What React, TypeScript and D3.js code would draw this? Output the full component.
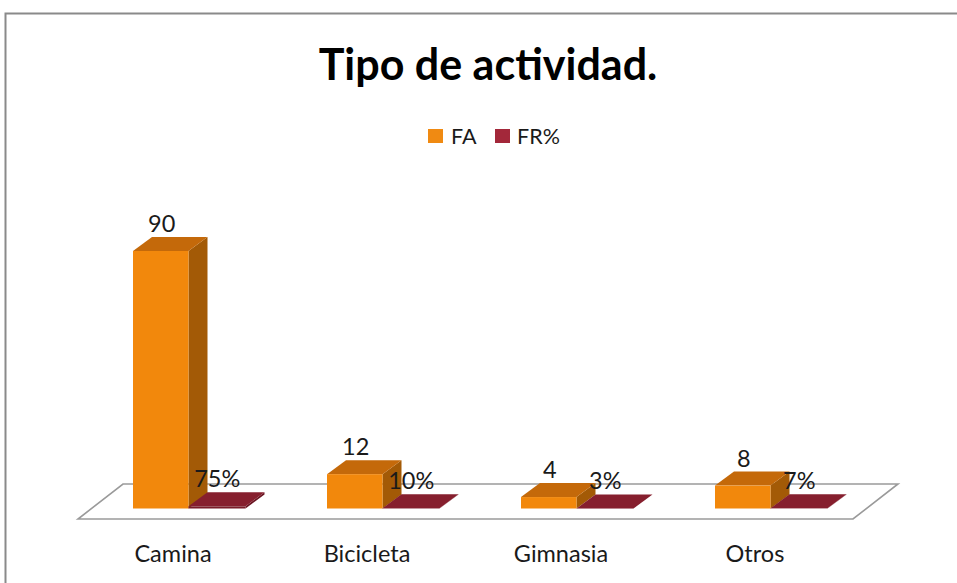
import React from "react";
import * as d3 from "d3";

const categories = ["Camina", "Bicicleta", "Gimnasia", "Otros"];
const faValues = [90, 12, 4, 8];
const frValues = [0.75, 0.1, 0.03, 0.07];
const frLabels = ["75%", "10%", "3%", "7%"];
const seriesNames = ["FA", "FR%"];

const W = 957;
const H = 583;
const FONT = "Lato, 'Open Sans', sans-serif";

export default function App() {
  const x = d3
    .scaleBand<string>()
    .domain(categories)
    .range([133, 133 + 194 * 4])
    .paddingInner(0)
    .paddingOuter(0);
  const y = d3.scaleLinear().domain([0, 90]).range([508.5, 251]);
  const barW = 55.5;
  const dx = 19;
  const dy = -14;
  const floor = { backY: 484, frontY: 519, frontX0: 78, frontX1: 853, ddx: 45 };

  const box = (x0: number, w: number, v: number, c: { front: string; top: string; side: string }, key: string) => {
    const yb = y(0);
    const yt = y(v);
    const x1 = x0 + w;
    const p = (pts: number[][]) => pts.map((q) => q.join(",")).join(" ");
    return (
      <g key={key}>
        <polygon points={p([[x1, yt], [x1 + dx, yt + dy], [x1 + dx, yb + dy], [x1, yb]])} fill={c.side} />
        <polygon points={p([[x0, yt], [x0 + dx, yt + dy], [x1 + dx, yt + dy], [x1, yt]])} fill={c.top} />
        <rect x={x0} y={yt} width={w} height={Math.max(0, yb - yt)} fill={c.front} />
      </g>
    );
  };

  const orange = { front: "#F2880C", top: "#C4690A", side: "#A35A06" };
  const red = { front: "#7A1C29", top: "#861F2E", side: "#6A1522" };

  return (
    <svg width={W} height={H} style={{ position: "fixed", left: 0, top: 0, background: "#fff" }}>
      <rect x={0} y={0} width={W} height={H} fill="#fff" />
      <rect x={5.5} y={13.5} width={W + 20} height={H + 20} fill="#fff" stroke="#8a8a8a" strokeWidth={2} />
      <text x={488} y={80} textAnchor="middle" fontFamily={FONT} fontWeight={700} fontSize={43} fill="#000">
        Tipo de actividad.
      </text>
      {/* legend */}
      <rect x={428} y={129} width={15} height={14} fill="#F08A12" />
      <text x={451} y={144} fontFamily={FONT} fontSize={21.5} fill="#1a1a1a">{seriesNames[0]}</text>
      <rect x={495} y={129} width={15} height={14} fill="#A3283A" />
      <text x={517} y={144} fontFamily={FONT} fontSize={21.5} fill="#1a1a1a">{seriesNames[1]}</text>
      {/* floor */}
      <polygon
        points={`${floor.frontX0},${floor.frontY} ${floor.frontX1},${floor.frontY} ${floor.frontX1 + floor.ddx},${floor.backY} ${floor.frontX0 + floor.ddx},${floor.backY}`}
        fill="#fff"
        stroke="#9a9a9a"
        strokeWidth={1.6}
      />
      {categories.map((c, i) => {
        const x0 = x(c)!;
        return (
          <g key={c}>
            {box(x0, barW, faValues[i], orange, "fa")}
            {box(x0 + barW, barW + 1.5, frValues[i], red, "fr")}
          </g>
        );
      })}
      {categories.map((c, i) => {
        const x0 = x(c)!;
        return (
          <g key={c + "l"} fontFamily={FONT} fontSize={23.5} fill="#1a1a1a" textAnchor="middle">
            <text x={x0 + barW / 2 + 1} y={y(faValues[i]) + dy - 5}>{faValues[i]}</text>
            <text x={x0 + barW * 1.5 + 1} y={y(frValues[i]) + dy - 5}>{frLabels[i]}</text>
            <text x={x0 + 40} y={562}>{c}</text>
          </g>
        );
      })}
    </svg>
  );
}
